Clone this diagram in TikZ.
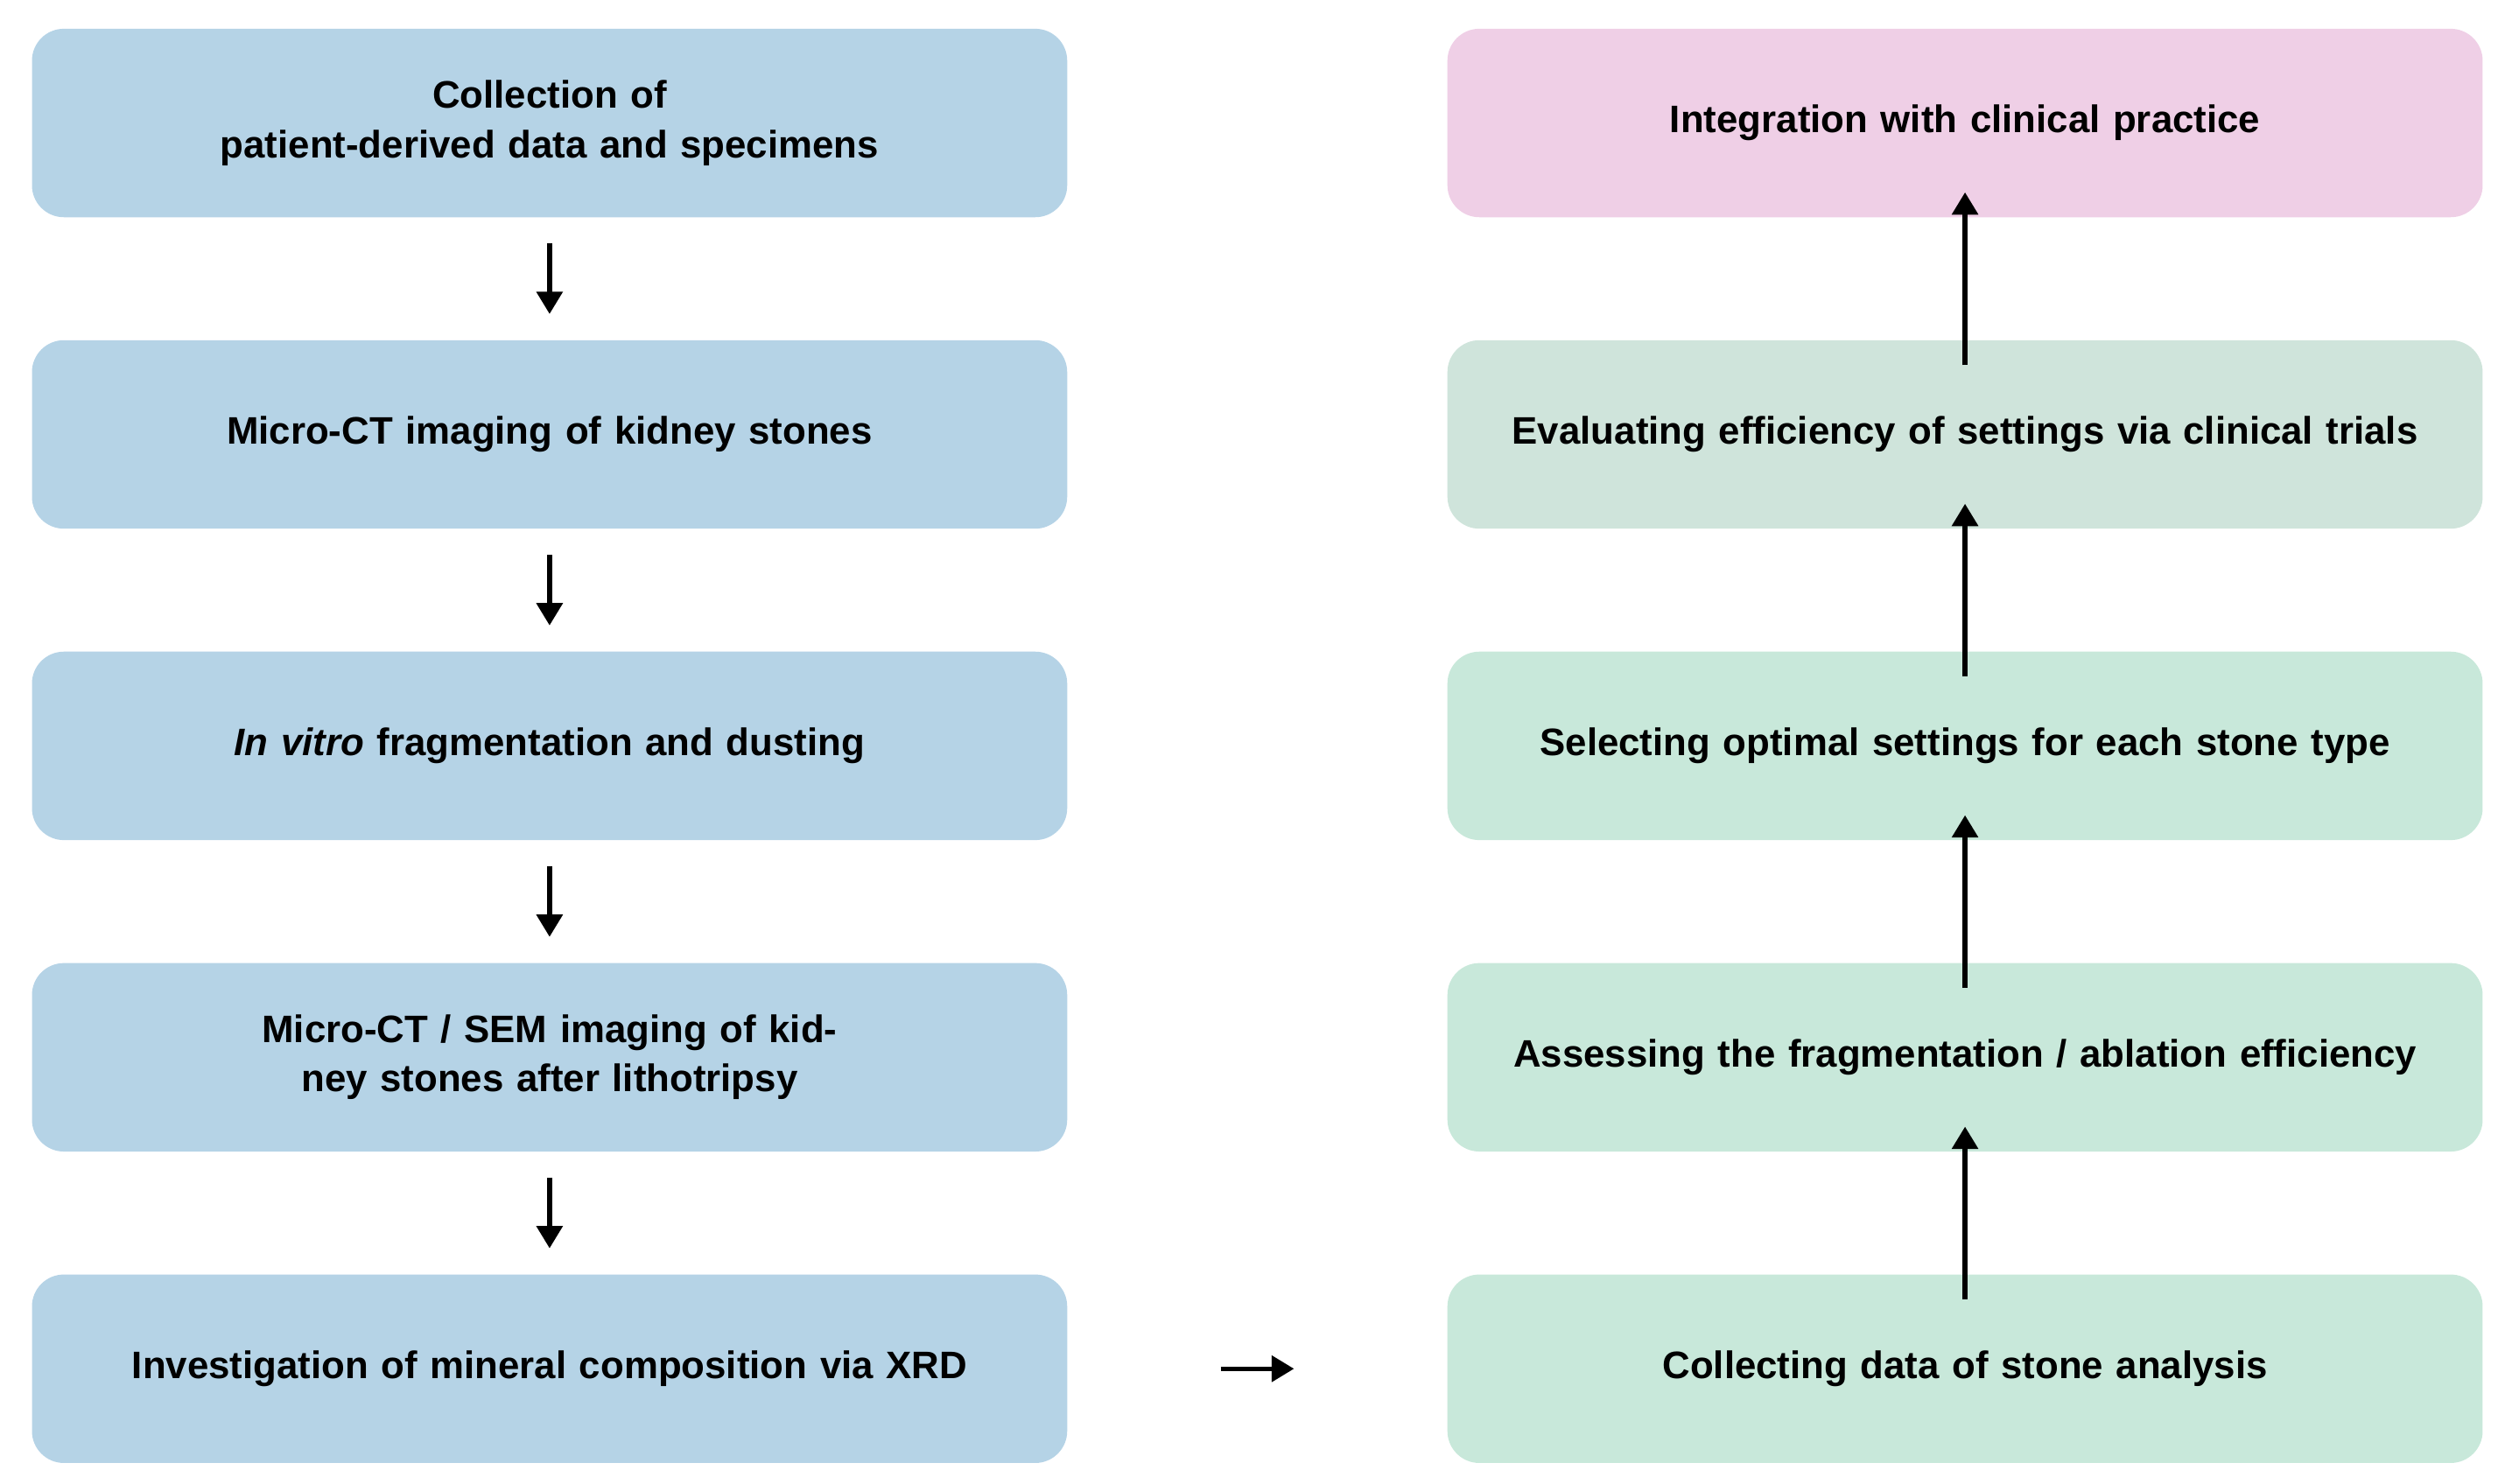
\documentclass[tikz,border=0pt]{standalone}
\usepackage{fontspec}
\setmainfont{Liberation Sans}
\usetikzlibrary{arrows.meta}
\definecolor{lb}{HTML}{B5D3E6}
\definecolor{pk}{HTML}{EFCFE6}
\definecolor{gg}{HTML}{CFE4DB}
\definecolor{gr}{HTML}{C8E8DA}
\begin{document}
\begin{tikzpicture}[x=0.5pt,y=-0.5pt,
 box/.style={rounded corners=10pt,minimum width=324pt,minimum height=59pt,inner sep=0pt,align=center,font=\fontsize{12}{15.5}\selectfont\bfseries,text width=320pt},
 arr/.style={line width=1.5pt,-{Triangle[length=7pt,width=8pt]}}]
\useasboundingbox (0,0) rectangle (1568,928.7);
\foreach \n/\y in {1/77,2/272,3/467,4/662,5/857}{
  \coordinate (L\n) at (344,\y); \coordinate (R\n) at (1230,\y);}
\node[box,fill=lb] (a1) at (L1) {Collection of\\patient-derived data and specimens};
\node[box,fill=lb] (a2) at (L2) {Micro-CT imaging of kidney stones};
\node[box,fill=lb] (a3) at (L3) {\textit{In vitro} fragmentation and dusting};
\node[box,fill=lb] (a4) at (L4) {Micro-CT / SEM imaging of kidney stones after lithotripsy};
\node[box,fill=lb] (a5) at (L5) {Investigation of mineral composition via XRD};
\node[box,fill=pk] (b1) at (R1) {Integration with clinical practice};
\node[box,fill=gg] (b2) at (R2) {Evaluating efficiency of settings via clinical trials};
\node[box,fill=gr] (b3) at (R3) {Selecting optimal settings for each stone type};
\node[box,fill=gr] (b4) at (R4) {Assessing the fragmentation / ablation efficiency};
\node[box,fill=gr] (b5) at (R5) {Collecting data of stone analysis};
\foreach \i/\j in {1/2,2/3,3/4,4/5}{
  \draw[arr] ([yshift=-8pt]a\i.south) -- ([yshift=8pt]a\j.north);
  \draw[arr] ([yshift=-8pt]b\j.north) -- ([yshift=8pt]b\i.south);}
\coordinate (h1) at (764,857); \coordinate (h2) at (810,857);
\draw[arr] (h1) -- (h2);
\end{tikzpicture}
\end{document}
